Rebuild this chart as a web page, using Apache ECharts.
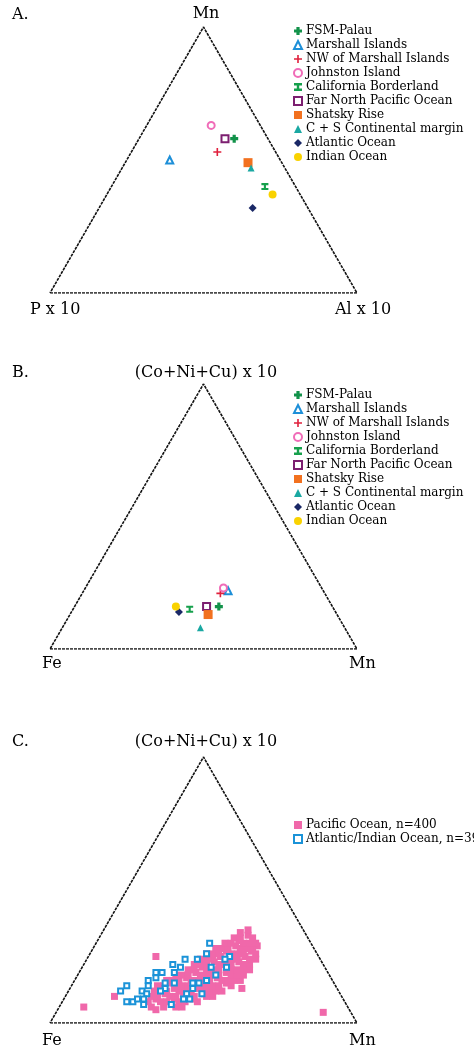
<!DOCTYPE html>
<html>
<head>
<meta charset="utf-8">
<script src="https://cdn.jsdelivr.net/npm/echarts@6/dist/echarts.min.js"></script>
<style>
    html, body { margin: 0; padding: 0; background: #fff; }
    #main { width: 474px; height: 1051px; }
</style>
</head>
<body>
<div id="main"></div>
<script>
/*********************** 数据 *******************************/
var groupNames = ['FSM-Palau', 'Marshall Islands', 'NW of Marshall Islands', 'Johnston Island',
    'California Borderland', 'Far North Pacific Ocean', 'Shatsky Rise', 'C + S Continental margin',
    'Atlantic Ocean', 'Indian Ocean'];

// A: P x 10 (左) - Al x 10 (右) - Mn (顶)
var plotA_P  = [11, 36, 19, 16, 10, 14, 11, 11, 18,  9];
var plotA_Al = [31, 14, 28, 21, 50, 28, 40, 42, 50, 54];
var plotA_Mn = [58, 50, 53, 63, 40, 58, 49, 47, 32, 37];

// B: Fe (左) - Mn (右) - (Co+Ni+Cu) x 10 (顶)
var plotB_Fe  = [37, 31, 34, 32, 47, 41, 42, 47, 51, 51];
var plotB_Mn  = [47, 47, 45, 45, 38, 43, 45, 45, 35, 33];
var plotB_CNC = [16, 22, 21, 23, 15, 16, 13,  8, 14, 16];

// C: [Mn, (Co+Ni+Cu) x 10], Fe = 100 - 其余
var pacificNames = ['Pacific Ocean, n=400', 'Atlantic/Indian Ocean, n=39'];
var pacificPts = [
    [30,6],[32,5],[34,6],[36,7],[38,6],[40,6],
    [28,8],[30,9],[32,8],[34,8],[36,9],[38,8],[40,8],[42,9],[44,8],
    [28,10],[30,10],[32,11],[34,10],[36,10],[38,11],[40,10],[42,10],[44,11],[46,10],[48,10],
    [28,12],[30,12],[32,12],[34,13],[36,12],[38,12],[40,12],[42,13],[44,12],[46,12],[48,12],[50,12],
    [28,14],[30,14],[32,15],[34,14],[36,14],[38,14],[40,15],[42,14],[44,14],[46,14],[48,14],[50,15],[52,14],
    [30,16],[32,16],[34,16],[36,17],[38,16],[40,16],[42,16],[44,16],[46,17],[48,16],[50,16],[52,16],[54,16],
    [32,18],[34,18],[36,18],[38,19],[40,18],[42,18],[44,18],[46,18],[48,19],[50,18],[52,18],[54,18],
    [35,20],[37,20],[39,21],[41,20],[43,20],[45,20],[47,21],[49,20],[51,20],[53,20],[55,20],
    [36,22],[38,22],[40,22],[42,23],[44,22],[46,22],[48,22],[50,23],[52,22],[54,22],
    [37,24],[39,24],[41,24],[43,25],[45,24],[47,24],[49,24],[51,25],[53,24],[55,24],
    [38,26],[40,26],[42,26],[44,27],[46,26],[48,26],[50,26],[52,27],[54,26],
    [40,28],[42,28],[44,28],[46,29],[48,28],[50,28],[52,28],[53,29],
    [42,30],[44,30],[46,31],[48,30],[50,30],[52,30],
    [44,32],[46,32],[48,33],[50,32],
    [45,34],[47,35],
    [16,10],[8,6],[87,4],[22,25],[56,13]
];
var atlanticPts = [
    [37,30],[32,24],[36,24],[38,26],[46,25],[29,22],[25,19],[42,21],[47,21],[31,19],
    [26,17],[24,16],[30,15],[33,15],[18,14],[43,16],[24,12],[26,11],[40,13],[39,11],
    [25,14],[39,15],[41,15],[26,9],[23,8],[21,8],[27,7],[31,13],[36,7],[41,9],
    [32,21],[27,19],[30,12],[24,9],[45,18],[44,11],[39,9],[17,12],[45,24]
];

/*********************** 样式 *******************************/
var markerStyles = [
    {symbol: 'path://M3,0H7V3H10V7H7V10H3V7H0V3H3Z', size: 8, color: '#12924a'},
    {symbol: 'emptyTriangle', size: 7, color: '#1d8fd8'},
    {symbol: 'path://M4,0H6V4H10V6H6V10H4V6H0V4H4Z', size: 8, color: '#e0203c'},
    {symbol: 'emptyCircle', size: 7, color: '#f06cb8'},
    {symbol: 'path://M0,0H10V3H6.5V7H10V10H0V7H3.5V3H0Z', size: 7, color: '#16a04c'},
    {symbol: 'emptyRect', size: 7, color: '#7c1f70'},
    {symbol: 'rect', size: 9, color: '#f2711f'},
    {symbol: 'triangle', size: 7, color: '#1aa8a2'},
    {symbol: 'diamond', size: 8, color: '#1a2866'},
    {symbol: 'circle', size: 8, color: '#f9d200'}
];
var serifFont = '"DejaVu Serif", "Liberation Serif", serif';

// 三元坐标 -> 直角坐标 (x:0~100, y:0~86.6)
function ternaryXY(left, right, top) {
    var s = left + right + top;
    return [(right + top / 2) / s * 100, top / s * 86.6];
}

function frameSeries(gridIndex) {
    return {
        type: 'line',
        xAxisIndex: gridIndex,
        yAxisIndex: gridIndex,
        silent: true,
        symbol: 'none',
        z: 1,
        lineStyle: {color: '#111', width: 1.6, type: [3, 1]},
        data: [ternaryXY(100, 0, 0), ternaryXY(0, 100, 0), ternaryXY(0, 0, 100), ternaryXY(100, 0, 0)]
    };
}

var series = [frameSeries(0), frameSeries(1), frameSeries(2)];

for (var i = 0; i < groupNames.length; i++) {
    var st = markerStyles[i];
    series.push({
        name: groupNames[i], type: 'scatter', xAxisIndex: 0, yAxisIndex: 0, z: 3,
        symbol: st.symbol, symbolSize: st.size,
        itemStyle: {color: st.color, opacity: 1},
        data: [ternaryXY(plotA_P[i], plotA_Al[i], plotA_Mn[i])]
    });
    series.push({
        name: groupNames[i], type: 'scatter', xAxisIndex: 1, yAxisIndex: 1, z: 3,
        symbol: st.symbol, symbolSize: st.size,
        itemStyle: {color: st.color, opacity: 1},
        data: [ternaryXY(plotB_Fe[i], plotB_Mn[i], plotB_CNC[i])]
    });
}

series.push({
    name: pacificNames[0], type: 'scatter', xAxisIndex: 2, yAxisIndex: 2, z: 3,
    symbol: 'rect', symbolSize: 7,
    itemStyle: {color: '#f068aa', opacity: 1},
    data: pacificPts.map(function (p) { return ternaryXY(100 - p[0] - p[1], p[0], p[1]); })
});
series.push({
    name: pacificNames[1], type: 'scatter', xAxisIndex: 2, yAxisIndex: 2, z: 4,
    symbol: 'emptyRect', symbolSize: 5,
    itemStyle: {color: '#1b93d8', opacity: 1},
    data: atlanticPts.map(function (p) { return ternaryXY(100 - p[0] - p[1], p[0], p[1]); })
});

function legendAt(top, data) {
    return {
        data: data, orient: 'vertical', left: 293, top: top, padding: 0,
        itemWidth: 8, itemHeight: 8, itemGap: 2, selectedMode: false,
        textStyle: {fontFamily: serifFont, fontSize: 12, color: '#000', padding: [0, 0, 0, -1]}
    };
}

function label(text, x, y, align) {
    return {
        type: 'text', x: x, y: y, silent: true,
        style: {text: text, font: '16px ' + serifFont, fill: '#000', align: align || 'left', verticalAlign: 'middle'}
    };
}

var gridList = [
    {left: 50, top: 27, width: 307, height: 266},
    {left: 50, top: 384, width: 307, height: 265},
    {left: 50, top: 757, width: 307, height: 266}
];
var xAxes = [], yAxes = [];
for (var g = 0; g < 3; g++) {
    xAxes.push({type: 'value', gridIndex: g, min: 0, max: 100, show: false});
    yAxes.push({type: 'value', gridIndex: g, min: 0, max: 86.6, show: false});
}

var option = {
    animation: false,
    backgroundColor: '#fff',
    grid: gridList,
    xAxis: xAxes,
    yAxis: yAxes,
    legend: [legendAt(25, groupNames), legendAt(389, groupNames), legendAt(819, pacificNames)],
    graphic: [
        label('A.', 12, 15), label('Mn', 206, 14, 'center'),
        label('P x 10', 30, 310), label('Al x 10', 335, 310),
        label('B.', 12, 373), label('(Co+Ni+Cu) x 10', 206, 373, 'center'),
        label('Fe', 42, 664), label('Mn', 349, 664),
        label('C.', 12, 742), label('(Co+Ni+Cu) x 10', 206, 742, 'center'),
        label('Fe', 42, 1041), label('Mn', 349, 1041)
    ],
    series: series
};

var myChart = echarts.init(document.getElementById('main'));
myChart.setOption(option);
</script>
</body>
</html>
